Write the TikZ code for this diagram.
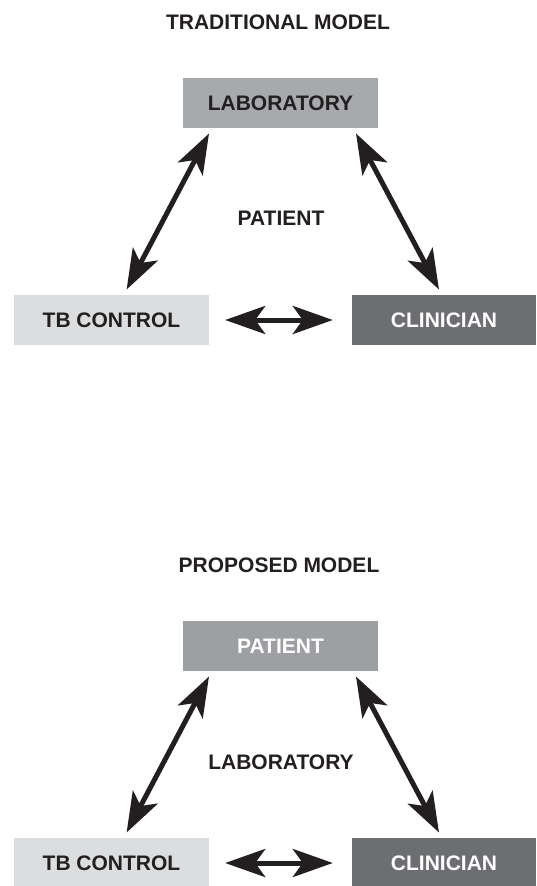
\documentclass[tikz,border=0pt]{standalone}
\usepackage{fontspec}
\setmainfont{Liberation Sans}
\usetikzlibrary{arrows.meta,calc}

\definecolor{ink}{HTML}{231F20}
\definecolor{labfill}{HTML}{A7A9AC}
\definecolor{patfill}{HTML}{9D9FA2}
\definecolor{tbfill}{HTML}{DCDDDF}
\definecolor{clinfill}{HTML}{6D6E71}

\tikzset{
  lbl/.style={font=\fontsize{21}{24}\selectfont\bfseries, text=ink, inner sep=0pt},
  box/.style={lbl, minimum height=50pt, minimum width=195pt},
  link/.style={draw=ink, line width=5pt, {Stealth[length=40pt,width=28pt,inset=10pt]}-{Stealth[length=40pt,width=28pt,inset=10pt]}}
}

\begin{document}
\begin{tikzpicture}[x=1pt,y=1pt,yscale=-1]
    \useasboundingbox (0,0) rectangle (536,886);

    %Traditional model
    % Text Node
    \node [lbl] (tradtitle) at (278,22.5) {TRADITIONAL MODEL};
    % Shape: Box
    \node [box, fill=labfill] (lab) at (280.5,103) {LABORATORY};
    % Shape: Box
    \node [box, fill=tbfill] (tb) at (111.5,320) {TB CONTROL};
    % Shape: Box
    \node [box, fill=clinfill, text=white, minimum width=184pt] (clin) at (444,320) {CLINICIAN};
    % Text Node
    \node [lbl] (pat) at (281,218) {PATIENT};

    %Straight Lines
    \draw [link, shorten <=6pt, shorten >=6pt] ($(lab.south west)+(29,0)$) -- ($(tb.north west)+(110,0)$);
    \draw [link, shorten <=6pt, shorten >=6pt] ($(lab.south east)+(-25,0)$) -- ($(clin.north west)+(90,0)$);
    \draw [link, shorten <=16pt, shorten >=19pt] (tb.east) -- (clin.west);

    %Proposed model
    % Text Node
    \node [lbl] (proptitle) at (279,565.5) {PROPOSED MODEL};
    % Shape: Box
    \node [box, fill=patfill, text=white] (patb) at (280.5,646) {PATIENT};
    % Shape: Box
    \node [box, fill=tbfill] (tbb) at (111.5,863) {TB CONTROL};
    % Shape: Box
    \node [box, fill=clinfill, text=white, minimum width=184pt] (clinb) at (444,863) {CLINICIAN};
    % Text Node
    \node [lbl] (labb) at (281,762) {LABORATORY};

    %Straight Lines
    \draw [link, shorten <=6pt, shorten >=6pt] ($(patb.south west)+(29,0)$) -- ($(tbb.north west)+(110,0)$);
    \draw [link, shorten <=6pt, shorten >=6pt] ($(patb.south east)+(-25,0)$) -- ($(clinb.north west)+(90,0)$);
    \draw [link, shorten <=16pt, shorten >=19pt] (tbb.east) -- (clinb.west);

\end{tikzpicture}
\end{document}
